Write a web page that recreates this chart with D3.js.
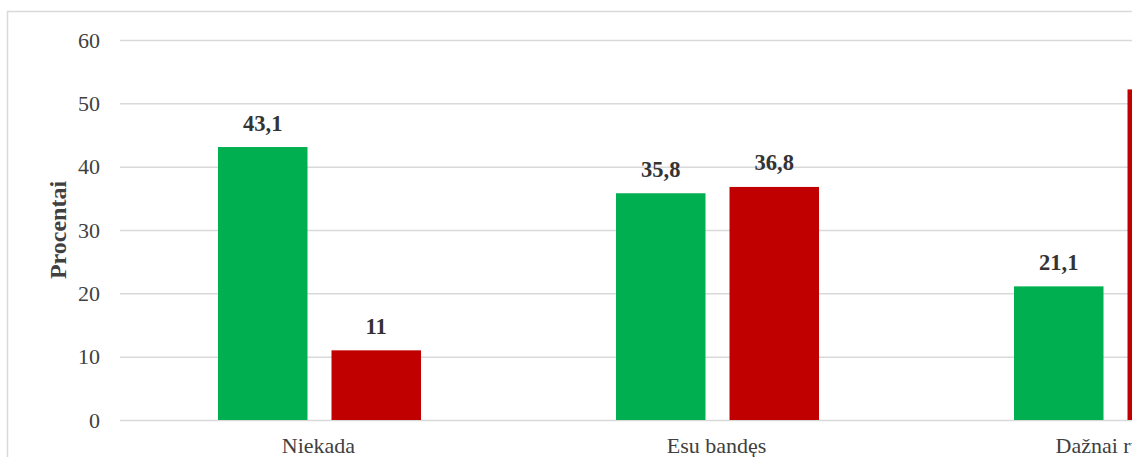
<!DOCTYPE html>
<html>
<head>
<meta charset="utf-8">
<script src="https://cdn.jsdelivr.net/npm/d3@7"></script>
<style>
  html, body { margin: 0; padding: 0; background: #fff; overflow: hidden; }
  svg { display: block; }
  text { font-family: "Liberation Serif", "Times New Roman", serif; fill: #404040; }
</style>
</head>
<body>
<svg id="chart" width="1132" height="457"></svg>
<script>
// Category labels along the x axis
const categories = ["Niekada", "Esu bandęs", "Dažnai rūkau"];
// Two series, one value per category (percent)
const seriesNames = ["s1", "s2"];
const seriesA = [43.1, 35.8, 21.1];
const seriesB = [11, 36.8, 52.2];
// Y axis ticks
const yTicks = [0, 10, 20, 30, 40, 50, 60];

const colors = { s1: "#00B050", s2: "#C00000" };

const svg = d3.select("#chart");

// Plot area (extends past the right edge of the window)
const plot = { left: 120, top: 40, bottom: 420, step: 398 };
const plotRight = plot.left + plot.step * categories.length;

// Outer chart frame
svg.append("rect")
  .attr("x", 7.5).attr("y", 11.5)
  .attr("width", plotRight + 60).attr("height", 470)
  .attr("fill", "none").attr("stroke", "#D9D9D9").attr("stroke-width", 1.5);

const y = d3.scaleLinear().domain([0, 60]).range([plot.bottom, plot.top]);
const x0 = d3.scaleBand().domain(categories).range([plot.left, plotRight]).padding(0);
const x1 = d3.scaleBand().domain(seriesNames)
  .range([98, 301]).paddingInner(0.2115).paddingOuter(0);

// Gridlines
svg.append("g").selectAll("line").data(yTicks).join("line")
  .attr("x1", plot.left).attr("x2", plotRight)
  .attr("y1", d => y(d) + 0.5).attr("y2", d => y(d) + 0.5)
  .attr("stroke", "#D9D9D9").attr("stroke-width", 1.5);

// Y tick labels
svg.append("g").selectAll("text").data(yTicks).join("text")
  .attr("x", 100).attr("y", d => y(d))
  .attr("dy", "0.35em")
  .attr("text-anchor", "end")
  .style("font-size", "22px")
  .text(d => d);

// Y axis title
svg.append("text")
  .attr("transform", "translate(66,230) rotate(-90)")
  .attr("text-anchor", "middle")
  .style("font-size", "24px").style("font-weight", "bold")
  .text("Procentai");

const rows = categories.map((c, i) => ({
  cat: c,
  values: [{ key: "s1", v: seriesA[i] }, { key: "s2", v: seriesB[i] }]
}));

const fmt = v => String(v).replace(".", ",");

const groups = svg.append("g").selectAll("g").data(rows).join("g")
  .attr("transform", d => `translate(${x0(d.cat)},0)`);

groups.selectAll("rect").data(d => d.values).join("rect")
  .attr("x", d => x1(d.key))
  .attr("y", d => y(d.v))
  .attr("width", x1.bandwidth())
  .attr("height", d => y(0) - y(d.v))
  .attr("fill", d => colors[d.key]);

// Value labels above bars
groups.selectAll("text.val").data(d => d.values).join("text")
  .attr("class", "val")
  .attr("x", d => x1(d.key) + x1.bandwidth() / 2)
  .attr("y", d => y(d.v) - 16.5)
  .attr("text-anchor", "middle")
  .style("font-size", "22.5px").style("font-weight", "bold")
  .style("fill", "#333333")
  .text(d => fmt(d.v));

// Category labels
svg.append("g").selectAll("text").data(categories).join("text")
  .attr("x", d => x0(d) + x0.bandwidth() / 2 - 0.5)
  .attr("y", 453)
  .attr("text-anchor", "middle")
  .style("font-size", "22px")
  .text(d => d);
</script>
</body>
</html>
